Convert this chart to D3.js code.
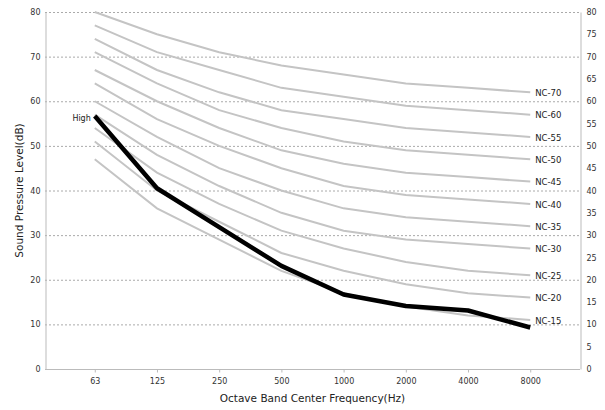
<!DOCTYPE html>
<html><head><meta charset="utf-8">
<script src="https://cdn.jsdelivr.net/npm/d3@7"></script>
<style>body{margin:0;background:#fff;} text{font-family:"DejaVu Sans",sans-serif;}</style>
</head><body><svg id="c" width="605" height="410"></svg>
<script>
const categories = ["63","125","250","500","1000","2000","4000","8000"];
const ncLabels = ["NC-70","NC-60","NC-55","NC-50","NC-45","NC-40","NC-35","NC-30","NC-25","NC-20","NC-15"];
const ncValues = [
  [80,75,71,68,66,64,63,62],
  [77,71,67,63,61,59,58,57],
  [74,67,62,58,56,54,53,52],
  [71,64,58,54,51,49,48,47],
  [67,60,54,49,46,44,43,42],
  [64,56,50,45,41,39,38,37],
  [60,52,45,40,36,34,33,32],
  [57,48,41,35,31,29,28,27],
  [54,44,37,31,27,24,22,21],
  [51,40,33,26,22,19,17,16],
  [47,36,29,22,17,14,12,11]
];
const highLabel = "High";
const highValues = [56.7,40.5,31.8,23.1,16.7,14.1,13.1,9.3];
const leftTicks = [0,10,20,30,40,50,60,70,80];
const rightTicks = [0,5,10,15,20,25,30,35,40,45,50,55,60,65,70,75,80];

const svg = d3.select("#c");
const L=45, R=580, T=12, B=369;
const x = d3.scalePoint().domain(categories).range([L,R]).padding(0.8);
const y = d3.scaleLinear().domain([0,80]).range([B,T]);

// gridlines
svg.append("g").selectAll("line").data(leftTicks.filter(d=>d>0)).join("line")
  .attr("x1",L).attr("x2",R).attr("y1",d=>y(d)+0.5).attr("y2",d=>y(d)+0.5)
  .attr("stroke","#aaa").attr("stroke-width",1).attr("stroke-dasharray","2,2");

// axes
const axL = svg.append("g").attr("transform",`translate(${L+0.5},0)`)
  .call(d3.axisLeft(y).tickValues(leftTicks).tickSize(0).tickPadding(5));
const axR = svg.append("g").attr("transform",`translate(${R+0.5},0)`)
  .call(d3.axisRight(y).tickValues(rightTicks).tickSize(0).tickPadding(6));
const axB = svg.append("g").attr("transform",`translate(0,${B+0.5})`)
  .call(d3.axisBottom(x).tickSize(3).tickPadding(6).tickSizeOuter(0));
[axL,axR,axB].forEach(a=>{
  a.select(".domain").attr("stroke","#bbb");
  a.selectAll(".tick line").attr("stroke","#bbb");
  a.selectAll("text").attr("fill","#333").style("font-size","8px").style("font-family","DejaVu Sans");
});
axB.select(".domain").attr("d",`M${L},0H${R}`);

const line = d3.line().x((d,i)=>x(categories[i])).y(d=>y(d));

svg.append("g").selectAll("path").data(ncValues).join("path")
  .attr("d",line).attr("fill","none").attr("stroke","#c4c4c4").attr("stroke-width",2);

svg.append("g").selectAll("text").data(ncValues).join("text")
  .attr("x",x(categories[categories.length-1])+5)
  .attr("y",d=>y(d[d.length-1])).attr("dy","0.45em")
  .style("font-size","8.5px").attr("fill","#222")
  .text((d,i)=>ncLabels[i]);

svg.append("path").datum(highValues).attr("d",line).attr("fill","none")
  .attr("stroke","#000").attr("stroke-width",4.5).attr("stroke-linejoin","round");
svg.append("text").attr("x",x(categories[0])-4).attr("y",y(highValues[0])+5.5)
  .attr("text-anchor","end").style("font-size","8px").attr("fill","#222").text(highLabel);

svg.append("text").attr("transform",`translate(23,${(T+B)/2}) rotate(-90)`)
  .attr("text-anchor","middle").style("font-size","10.5px").attr("fill","#222")
  .text("Sound Pressure Level(dB)");
svg.append("text").attr("x",(L+R)/2).attr("y",402)
  .attr("text-anchor","middle").style("font-size","10.5px").attr("fill","#222")
  .text("Octave Band Center Frequency(Hz)");
</script></body></html>
